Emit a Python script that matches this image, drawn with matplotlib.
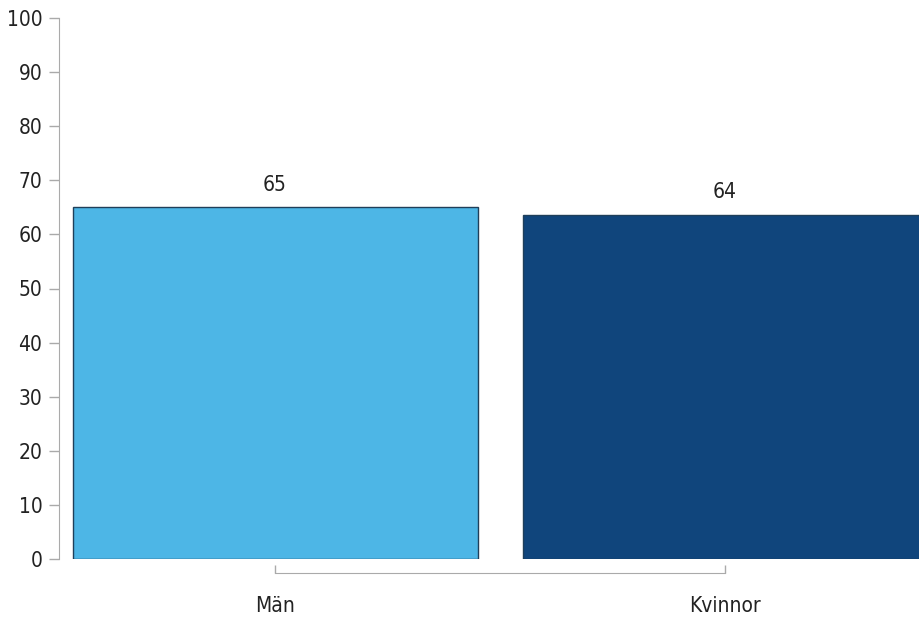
import matplotlib.pyplot as plt

categories = ["Män", "Kvinnor"]
values = [65, 63.6]
value_labels = ["65", "64"]
colors = ["#4db6e6", "#10457c"]
yticks = list(range(0, 101, 10))

plt.rcParams['font.family'] = ['DejaVu Sans']
plt.rcParams['font.stretch'] = 'condensed'

fig = plt.figure(figsize=(9.19, 6.17), dpi=100)
ax = fig.add_axes([59 / 919, 58 / 617, 1 - 59 / 919, (559 - 18) / 617])

x = range(len(categories))
bars = ax.bar(x, values, width=0.9, color=colors, edgecolor="#1f3f5a", linewidth=1)
for b, lab in zip(bars, value_labels):
    ax.annotate(lab, (b.get_x() + b.get_width() / 2, b.get_height()),
                xytext=(0, 9), textcoords="offset points", ha="center", va="bottom",
                fontsize=15, color="#222222")

ax.set_xlim(-0.48, 1.431)
ax.set_ylim(0, 100)
ax.set_yticks(yticks)
ax.set_xticks(list(x))
ax.set_xticklabels(categories)

for s in ["top", "right"]:
    ax.spines[s].set_visible(False)
ax.spines["left"].set_color("#aaaaaa")
ax.spines["bottom"].set_color("#aaaaaa")
ax.spines["bottom"].set_position(("outward", 10))
ax.spines["bottom"].set_bounds(0, 1)
ax.tick_params(axis="y", colors="#aaaaaa", labelcolor="#222222", labelsize=15, length=7, width=1, pad=5)
ax.tick_params(axis="x", colors="#aaaaaa", labelcolor="#222222", labelsize=15, length=6, width=1,
               direction="in", pad=17)

fig.savefig("out.png", dpi=100)
